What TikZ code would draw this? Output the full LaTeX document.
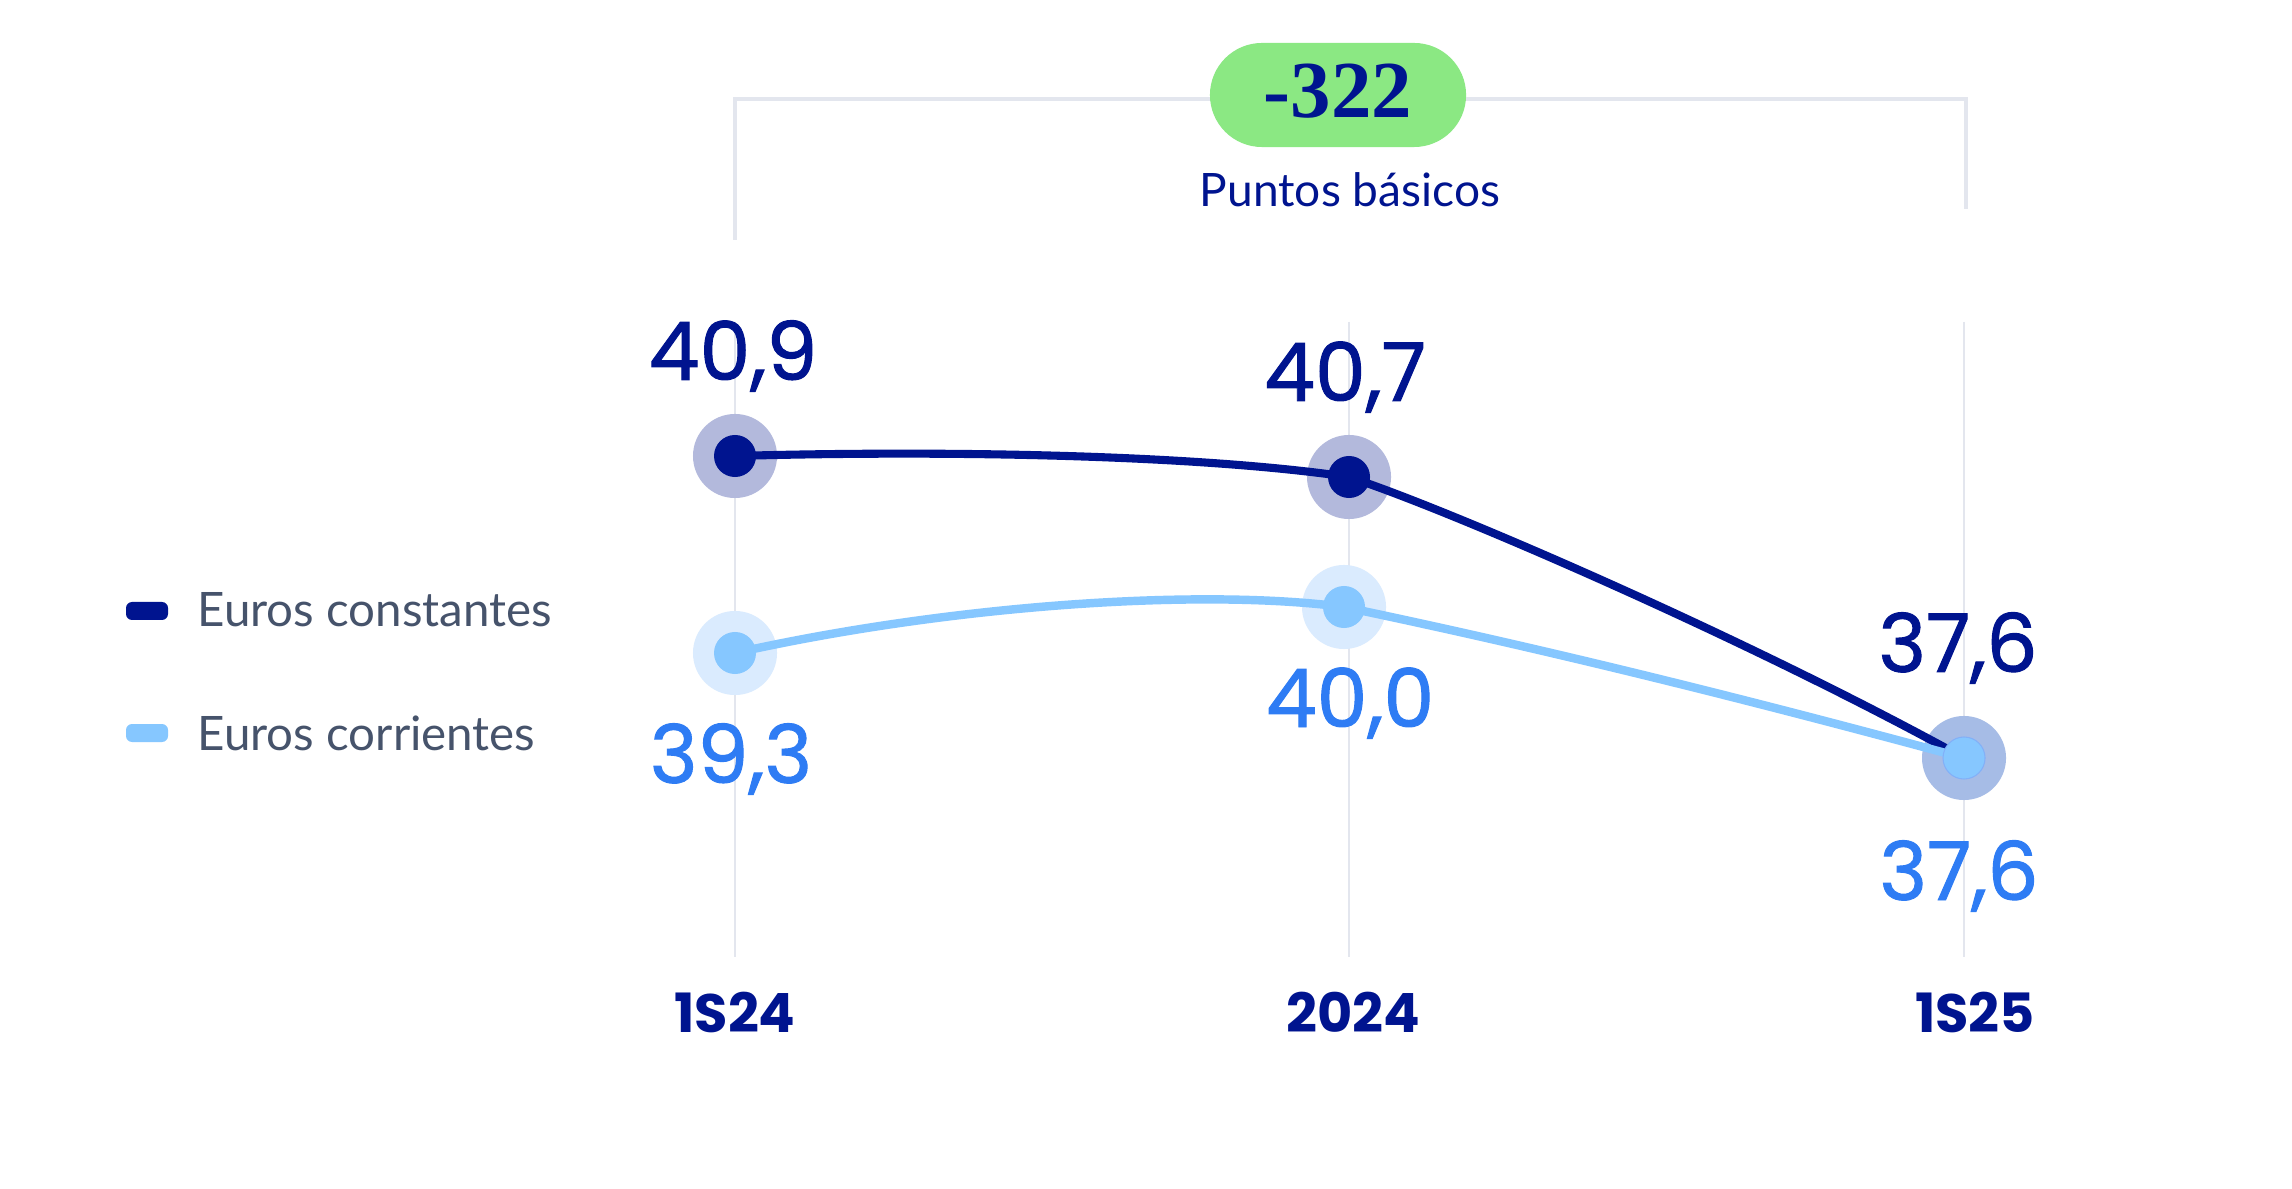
\documentclass[tikz,border=0pt]{standalone}
\usepackage{fontspec}
\setmainfont{Lato}
\newfontfamily\numfont[FakeBold=1.2]{Poppins}
\newfontfamily\axisfont{Poppins}
\newfontfamily\badgefont{Liberation Serif}
\usetikzlibrary{calc}

\definecolor{navy}{HTML}{00148F}
\definecolor{skyline}{HTML}{86C7FF}
\definecolor{skytext}{HTML}{2E7CF4}
\definecolor{navyhalo}{HTML}{B3B9DC}
\definecolor{skyhalo}{HTML}{DAEBFE}
\definecolor{mixhalo}{HTML}{A6BCE6}
\definecolor{gridgray}{HTML}{E3E6EE}
\definecolor{pillgreen}{HTML}{8BE883}
\definecolor{legendgray}{HTML}{46536B}

\tikzset{
	halo/.style={circle, fill=#1, minimum size=0.84cm, inner sep=0},
	dot/.style={circle, fill=#1, minimum size=0.42cm, inner sep=0},
	numlab/.style={font=\numfont\fontsize{23}{23}\selectfont, inner sep=0, anchor=base},
	axislab/.style={font=\axisfont\bfseries\fontsize{15.4}{15.4}\selectfont, text=navy, inner sep=0, anchor=base},
	legendlab/.style={font=\fontsize{13.5}{13.5}\selectfont, text=legendgray, inner sep=0, anchor=base west},
	legendkey/.style={fill=#1, rounded corners=0.06cm},
}

\begin{document}
\begin{tikzpicture}[x=0.01cm, y=-0.01cm]
		%%%%% START %%%%%
		\useasboundingbox[fill=white] (0, 0) rectangle (2292, 1189);
		
		\foreach \x in {735, 1349, 1964}
			\draw[line width=0.7pt, color=gridgray] (\x, 322) -- (\x, 957);
		
		\coordinate (bl) at (735, 240);
		\coordinate (br) at (1966, 209);
		\draw[line width=1.1pt, color=gridgray] (bl) -- ++(0, -141) -| (br);
		
		\node[fill=pillgreen, minimum width=2.56cm, minimum height=1.04cm, rounded corners=0.52cm] (pill) at (1338, 95) {};
		\node[font=\badgefont\bfseries\fontsize{23}{23}\selectfont, text=navy, inner sep=0, anchor=base] (bps) at (1338, 118) {-322};
		\node[font=\fontsize{13.1}{13.1}\selectfont, text=navy, inner sep=0, anchor=base] (bpslab) at (1350, 207) {Puntos básicos};
		
		\node[halo=navyhalo] (c1) at (735, 456) {};
		\node[halo=navyhalo] (c2) at (1349, 477) {};
		\node[halo=skyhalo] (r1) at (735, 653) {};
		\node[halo=skyhalo] (r2) at (1344, 607) {};
		\node[halo=mixhalo] (c3) at (1964, 758) {};
		\coordinate (r3) at (1964, 758);
		
		\draw[line width=2.3pt, color=navy] (c1.center) .. controls (950, 450) and (1200, 455) .. (c2.center)
			.. controls (1450, 510) and (1750, 640) .. (c3.center);
		\draw[line width=2.4pt, color=skyline] (r1.center) .. controls (950, 605) and (1200, 588) .. (r2.center)
			.. controls (1550, 650) and (1750, 700) .. (r3);
		
		\node[dot=navy] at (c1) {};
		\node[dot=navy] at (c2) {};
		\node[dot=skyline] at (r1) {};
		\node[dot=skyline] at (r2) {};
		\node[dot=skyline, draw=skytext!60, line width=0.3pt] at (r3) {};
		
		\node[numlab, text=navy] (v1) at (733, 380) {40,9};
		\node[numlab, text=navy] (v2) at (1345, 401) {40,7};
		\node[numlab, text=navy] (v3) at (1958, 672) {37,6};
		\node[numlab, text=skytext] (w1) at (731, 783) {39,3};
		\node[numlab, text=skytext] (w2) at (1350, 727) {40,0};
		\node[numlab, text=skytext] (w3) at (1959, 900) {37,6};
		
		\node[axislab] (x1) at (735, 1032) {1S24};
		\node[axislab] (x2) at (1353, 1032) {2024};
		\node[axislab] (x3) at (1975, 1032) {1S25};
		
		\fill[legendkey=navy] (126, 602) rectangle (168, 620);
		\node[legendlab] (kc) at (197, 627) {Euros constantes};
		\fill[legendkey=skyline] (126, 724) rectangle (168, 742);
		\node[legendlab] (kr) at (197, 750) {Euros corrientes};
		
		%%%%% END %%%%%
	\end{tikzpicture}
\end{document}
